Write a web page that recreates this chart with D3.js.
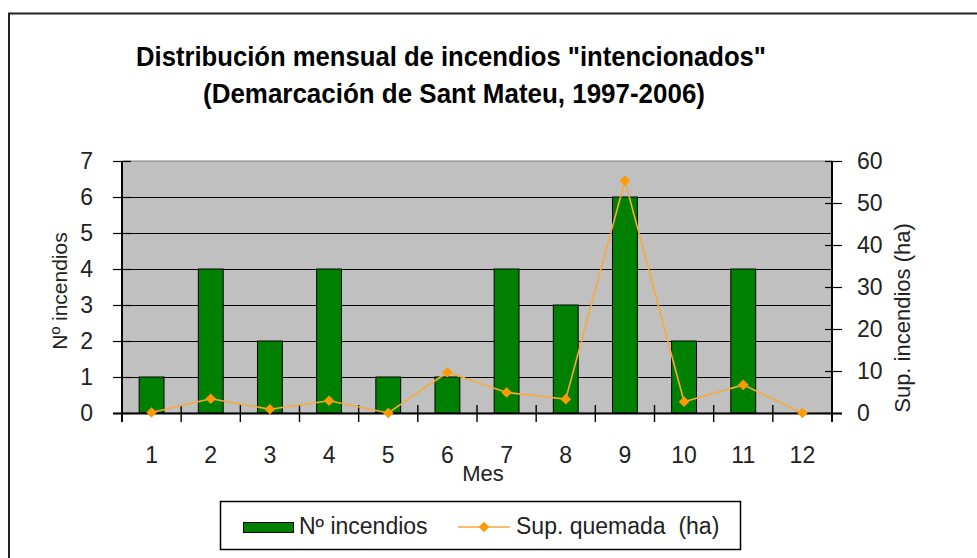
<!DOCTYPE html>
<html>
<head>
<meta charset="utf-8">
<script src="https://cdn.jsdelivr.net/npm/d3@7"></script>
<style>
  html, body { margin: 0; padding: 0; background: #fff; }
  svg { display: block; font-family: "Liberation Sans", Arial, sans-serif; }
</style>
</head>
<body>
<svg id="chart" width="977" height="558"></svg>
<script>
// Data
const months = [1, 2, 3, 4, 5, 6, 7, 8, 9, 10, 11, 12];
const incendios = [1, 4, 2, 4, 1, 1, 4, 3, 6, 2, 4, 0];
const superficie = [0.1, 3.4, 0.9, 2.9, 0, 9.7, 4.9, 3.3, 55.3, 2.7, 6.7, 0];
const leftTicks = [0, 1, 2, 3, 4, 5, 6, 7];
const rightTicks = [0, 10, 20, 30, 40, 50, 60];

const rows = months.map((m, i) => ({ m, n: incendios[i], sup: superficie[i] }));

const svg = d3.select("#chart");

// plot area
const L = 122, R = 832, T = 161, B = 413;

const x = d3.scaleBand().domain(months).range([L, R]).padding(0);
const yL = d3.scaleLinear().domain([0, 7]).range([B, T]);
const yR = d3.scaleLinear().domain([0, 60]).range([B, T]);

const GREEN = "#008000";
const ORANGE = "#ff9900";
const LINE = "#f7a93a";
const TXT = "#222";

// outer frame (runs off the right and bottom)
svg.append("path")
  .attr("d", "M9,600 L9,13.5 L990,13.5")
  .attr("fill", "none")
  .attr("stroke", "#222")
  .attr("stroke-width", 2);

// title
const title = svg.append("g").attr("font-weight", 700).attr("fill", "#000").attr("font-size", 27);
title.append("text")
  .attr("x", 451).attr("y", 66)
  .attr("text-anchor", "middle")
  .attr("textLength", 630).attr("lengthAdjust", "spacingAndGlyphs")
  .text("Distribución mensual de incendios \"intencionados\"");
title.append("text")
  .attr("x", 454).attr("y", 103)
  .attr("text-anchor", "middle")
  .attr("textLength", 502).attr("lengthAdjust", "spacingAndGlyphs")
  .text("(Demarcación de Sant Mateu, 1997-2006)");

// plot background
svg.append("rect")
  .attr("x", L).attr("y", T)
  .attr("width", R - L).attr("height", B - T)
  .attr("fill", "#c0c0c0")
  .attr("stroke", "#808080")
  .attr("stroke-width", 1);

// gridlines
svg.append("g")
  .selectAll("line")
  .data(leftTicks.filter(d => d > 0 && d < 7))
  .join("line")
  .attr("x1", L).attr("x2", R)
  .attr("y1", d => Math.round(yL(d)) + 0.5)
  .attr("y2", d => Math.round(yL(d)) + 0.5)
  .attr("stroke", "#000")
  .attr("stroke-width", 1.2);

// bars
svg.append("g")
  .selectAll("rect")
  .data(rows.filter(d => d.n > 0))
  .join("rect")
  .attr("x", d => x(d.m) + x.bandwidth() * 0.29)
  .attr("width", x.bandwidth() * 0.42)
  .attr("y", d => yL(d.n))
  .attr("height", d => yL(0) - yL(d.n))
  .attr("fill", GREEN)
  .attr("stroke", "#000")
  .attr("stroke-width", 1);

// left axis
const axL = svg.append("g")
  .attr("transform", `translate(${L},0)`)
  .call(d3.axisLeft(yL).tickValues(leftTicks).tickFormat(d3.format("d"))
    .tickSizeInner(9).tickSizeOuter(0).tickPadding(20));
axL.select(".domain").remove();
axL.selectAll(".tick line").attr("x1", 9).attr("stroke", "#000").attr("stroke-width", 1.2);
axL.selectAll(".tick text").attr("font-size", 23).attr("fill", TXT).attr("font-family", "Liberation Sans, Arial, sans-serif");

// right axis
const axR = svg.append("g")
  .attr("transform", `translate(${R},0)`)
  .call(d3.axisRight(yR).tickValues(rightTicks).tickFormat(d3.format("d"))
    .tickSizeInner(10).tickSizeOuter(0).tickPadding(15));
axR.select(".domain").remove();
axR.selectAll(".tick line").attr("x1", -7).attr("stroke", "#000").attr("stroke-width", 1.2);
axR.selectAll(".tick text").attr("font-size", 23).attr("fill", TXT).attr("font-family", "Liberation Sans, Arial, sans-serif");

// bottom axis: labels at band centres, ticks at band edges
const axB = svg.append("g")
  .attr("transform", `translate(0,${B})`)
  .call(d3.axisBottom(x).tickSize(0).tickPadding(0));
axB.select(".domain").remove();
axB.selectAll(".tick text")
  .attr("y", 50).attr("dy", 0)
  .attr("font-size", 23).attr("fill", TXT)
  .attr("font-family", "Liberation Sans, Arial, sans-serif");

const edges = months.map(m => x(m)).concat([R]);
svg.append("g")
  .selectAll("line")
  .data(edges)
  .join("line")
  .attr("x1", d => d).attr("x2", d => d)
  .attr("y1", B - 8).attr("y2", B + 9)
  .attr("stroke", "#000").attr("stroke-width", 1.4);

// axis lines
svg.append("line").attr("x1", L).attr("x2", L).attr("y1", T).attr("y2", B + 9)
  .attr("stroke", "#000").attr("stroke-width", 2);
svg.append("line").attr("x1", R).attr("x2", R).attr("y1", T).attr("y2", B + 9)
  .attr("stroke", "#000").attr("stroke-width", 2);
svg.append("line").attr("x1", L - 9).attr("x2", R + 10).attr("y1", B + 0.5).attr("y2", B + 0.5)
  .attr("stroke", "#000").attr("stroke-width", 2);

// line series (right axis)
const cx = d => x(d.m) + x.bandwidth() / 2;
svg.append("path")
  .datum(rows)
  .attr("d", d3.line().x(cx).y(d => yR(d.sup)))
  .attr("fill", "none")
  .attr("stroke", LINE)
  .attr("stroke-width", 1.6);

const diamond = d3.symbol(d3.symbolSquare, 56);
svg.append("g")
  .selectAll("path")
  .data(rows)
  .join("path")
  .attr("d", diamond)
  .attr("transform", d => `translate(${cx(d)},${yR(d.sup)}) rotate(45)`)
  .attr("fill", ORANGE);

// axis titles
svg.append("text")
  .attr("transform", "translate(67,291) rotate(-90)")
  .attr("text-anchor", "middle")
  .attr("font-size", 21).attr("fill", TXT)
  .text("Nº incendios");

svg.append("text")
  .attr("transform", "translate(910,318) rotate(-90)")
  .attr("text-anchor", "middle")
  .attr("font-size", 22).attr("fill", TXT)
  .text("Sup. incendios (ha)");

svg.append("text")
  .attr("x", 483).attr("y", 481)
  .attr("text-anchor", "middle")
  .attr("font-size", 22).attr("fill", TXT)
  .text("Mes");

// legend
const lg = svg.append("g");
lg.append("rect")
  .attr("x", 220.5).attr("y", 501.5).attr("width", 520).attr("height", 48)
  .attr("fill", "#fff").attr("stroke", "#000").attr("stroke-width", 1.5);
lg.append("rect")
  .attr("x", 243.5).attr("y", 522.5).attr("width", 50).attr("height", 10)
  .attr("fill", GREEN).attr("stroke", "#000").attr("stroke-width", 1);
lg.append("text")
  .attr("x", 299).attr("y", 534)
  .attr("font-size", 23).attr("fill", TXT)
  .text("Nº incendios");
lg.append("line")
  .attr("x1", 458).attr("x2", 510).attr("y1", 527).attr("y2", 527)
  .attr("stroke", LINE).attr("stroke-width", 1.6);
lg.append("path")
  .attr("d", diamond)
  .attr("transform", "translate(484,527) rotate(45)")
  .attr("fill", ORANGE);
lg.append("text")
  .attr("x", 516).attr("y", 534)
  .attr("font-size", 23).attr("fill", TXT)
  .text("Sup. quemada\u00a0 (ha)");
</script>
</body>
</html>
